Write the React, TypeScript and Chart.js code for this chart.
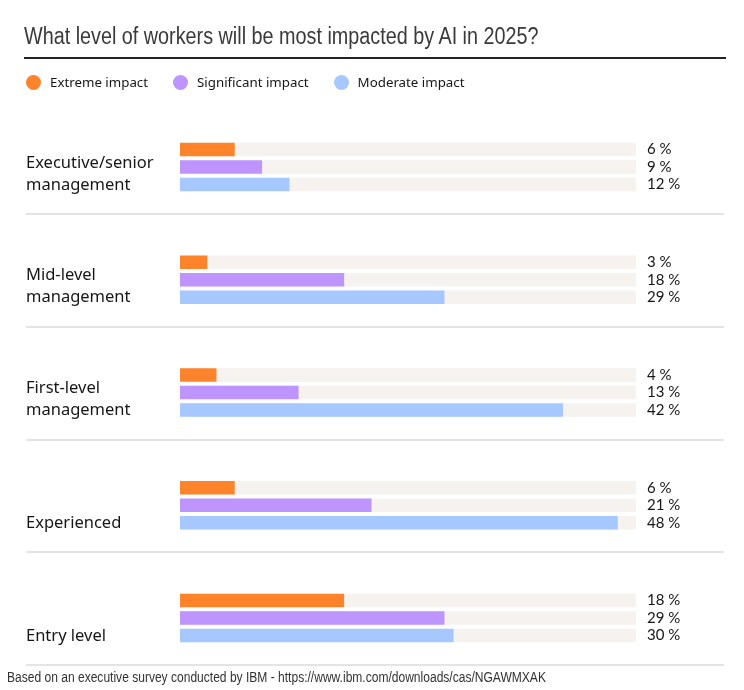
import React, { useEffect, useRef } from "react";
import { Chart, registerables } from "chart.js";

Chart.register(...registerables);

const title = "What level of workers will be most impacted by AI in 2025?";
const footnote =
  "Based on an executive survey conducted by IBM - https://www.ibm.com/downloads/cas/NGAWMXAK";
const categories: string[][] = [
  ["Executive/senior", "management"],
  ["Mid-level", "management"],
  ["First-level", "management"],
  ["", "Experienced"],
  ["", "Entry level"],
];
const seriesNames = ["Extreme impact", "Significant impact", "Moderate impact"];
const seriesColors = ["#ff832b", "#be95ff", "#a6c8ff"];
const extreme = [6, 3, 4, 6, 18];
const significant = [9, 18, 13, 21, 29];
const moderate = [12, 29, 42, 48, 30];
const axisMax = 50;
const valueSuffix = " %";

const seriesValues = [extreme, significant, moderate];

const decorPlugin = {
  id: "decor",
  beforeDatasetsDraw(chart: any) {
    const { ctx, chartArea } = chart;
    ctx.save();
    ctx.fillStyle = "#f5f2ef";
    chart.data.datasets.forEach((_: any, i: number) => {
      chart.getDatasetMeta(i).data.forEach((el: any) => {
        const { y, height } = el.getProps(["y", "height"], true);
        ctx.fillRect(chartArea.left, y - height / 2, chartArea.right - chartArea.left, height);
      });
    });
    const yScale = chart.scales.y;
    ctx.fillStyle = "#e4e4e4";
    categories.forEach((_, i) => {
      const yc = yScale.getPixelForValue(i);
      const yy = Math.round(yc + 46);
      ctx.fillRect(26, yy, 698, 2);
    });
    ctx.restore();
  },
  afterDatasetsDraw(chart: any) {
    const { ctx, chartArea } = chart;
    ctx.save();
    ctx.fillStyle = "#161616";
    ctx.font = "15px Lato";
    ctx.textAlign = "left";
    ctx.textBaseline = "middle";
    chart.data.datasets.forEach((ds: any, i: number) => {
      chart.getDatasetMeta(i).data.forEach((el: any, j: number) => {
        const { y } = el.getProps(["y"], true);
        ctx.fillText(`${ds.data[j]}${valueSuffix}`, chartArea.right + 11, y);
      });
    });
    ctx.restore();
  },
};

export default function App() {
  const canvasRef = useRef<HTMLCanvasElement | null>(null);

  useEffect(() => {
    const canvas = canvasRef.current;
    if (!canvas) return;
    const chart = new Chart(canvas, {
      type: "bar",
      data: {
        labels: categories,
        datasets: seriesNames.map((name, i) => ({
          label: name,
          data: seriesValues[i],
          backgroundColor: seriesColors[i],
          borderWidth: 0,
          categoryPercentage: 0.4655,
          barPercentage: 0.771,
        })),
      },
      options: {
        indexAxis: "y",
        animation: false,
        responsive: false,
        maintainAspectRatio: false,
        layout: { padding: { left: 26, right: 108, top: 110.6, bottom: 15.6 } },
        plugins: {
          legend: { display: false },
          tooltip: { enabled: false },
          title: { display: false },
        },
        scales: {
          x: { display: false, min: 0, max: axisMax },
          y: {
            grid: { display: false },
            border: { display: false },
            afterFit: (s: any) => {
              s.width = 154;
              s.paddingTop = 0;
              s.paddingBottom = 0;
            },
            ticks: {
              crossAlign: "far",
              labelOffset: 7,
              padding: 0,
              autoSkip: false,
              color: "#161616",
              font: { family: "'Noto Sans'", size: 16.5, lineHeight: 1.34 },
            },
          },
        },
      },
      plugins: [decorPlugin],
    });
    return () => chart.destroy();
  }, []);

  const narrow = {
    fontFamily: "'Liberation Sans', Arial, sans-serif",
    transform: "scaleX(0.86)",
    transformOrigin: "0 0",
    whiteSpace: "nowrap" as const,
  };

  return (
    <div
      style={{
        position: "absolute",
        left: 0,
        top: 0,
        width: 744,
        height: 690,
        background: "#ffffff",
        overflow: "hidden",
      }}
    >
      <canvas
        ref={canvasRef}
        width={744}
        height={690}
        style={{ position: "absolute", left: 0, top: 0, width: 744, height: 690 }}
      />
      <div
        style={{
          ...narrow,
          position: "absolute",
          left: 24,
          top: 25,
          fontSize: 23,
          lineHeight: "23px",
          color: "#3a3a3a",
        }}
      >
        {title}
      </div>
      <div
        style={{
          position: "absolute",
          left: 24,
          top: 57,
          width: 702,
          height: 2,
          background: "#222222",
        }}
      />
      <div
        style={{
          position: "absolute",
          left: 26,
          top: 74,
          height: 16,
          display: "flex",
          alignItems: "center",
          fontFamily: "'Noto Sans', sans-serif",
          fontSize: 13.3,
          color: "#161616",
          whiteSpace: "nowrap",
        }}
      >
        {seriesNames.map((name, i) => (
          <div key={name} style={{ display: "flex", alignItems: "center", marginRight: 25 }}>
            <span
              style={{
                display: "inline-block",
                width: 15,
                height: 15,
                borderRadius: "50%",
                background: seriesColors[i],
                marginRight: 9,
              }}
            />
            <span>{name}</span>
          </div>
        ))}
      </div>
      <div
        style={{
          ...narrow,
          position: "absolute",
          left: 7,
          top: 670,
          fontSize: 14,
          lineHeight: "14px",
          color: "#333333",
        }}
      >
        {footnote}
      </div>
    </div>
  );
}
